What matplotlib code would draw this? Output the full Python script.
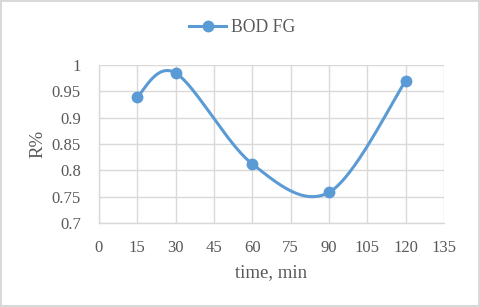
import numpy as np
import matplotlib
matplotlib.use("Agg")
import matplotlib.pyplot as plt
from matplotlib.lines import Line2D

time_min = [15, 30, 60, 90, 120]
r_values = [0.94, 0.985, 0.812, 0.758, 0.970]
series_name = "BOD FG"
x_ticks = [0, 15, 30, 45, 60, 75, 90, 105, 120, 135]
y_ticks = [0.7, 0.75, 0.8, 0.85, 0.9, 0.95, 1.0]
y_tick_labels = ["0.7", "0.75", "0.8", "0.85", "0.9", "0.95", "1"]

color = "#5B9BD5"
plt.rcParams['font.family'] = ['Liberation Serif', 'DejaVu Serif']

fig = plt.figure(figsize=(4.8, 3.07), dpi=100)
fig.patch.set_edgecolor("#d9d9d9")
fig.patch.set_linewidth(1.5)
ax = fig.add_axes([0.206, 0.274, 0.719, 0.514])

# Excel-like smoothed curve (cardinal Bezier)
P = np.column_stack([time_min, r_values]).astype(float)
n = len(P)
xs, ys = [], []
t = np.linspace(0, 1, 60)
for i in range(n - 1):
    p0 = P[max(i - 1, 0)]
    p1 = P[i]
    p2 = P[i + 1]
    p3 = P[min(i + 2, n - 1)]
    c1 = p1 + (p2 - p0) / 6
    c2 = p2 - (p3 - p1) / 6
    b = ((1 - t) ** 3)[:, None] * p1 + (3 * (1 - t) ** 2 * t)[:, None] * c1 \
        + (3 * (1 - t) * t ** 2)[:, None] * c2 + (t ** 3)[:, None] * p2
    xs.extend(b[:, 0]); ys.extend(b[:, 1])

ax.plot(xs, ys, color=color, lw=2.2, zorder=3, solid_capstyle='round')
ax.plot(time_min, r_values, 'o', color=color, ms=7.5, zorder=4)

ax.set_xlim(0, 135)
ax.set_ylim(0.7, 1.0)
ax.set_xticks(x_ticks)
ax.set_yticks(y_ticks)
ax.set_yticklabels(y_tick_labels)
ax.grid(True, color="#d9d9d9", lw=1)
ax.set_axisbelow(True)
for s in ["top", "right"]:
    ax.spines[s].set_visible(False)
for s in ["left", "bottom"]:
    ax.spines[s].set_color("#d9d9d9")
    ax.spines[s].set_linewidth(1)
ax.tick_params(axis='x', length=0, labelsize=12, colors="#595959", pad=12)
ax.tick_params(axis='y', length=0, labelsize=12, colors="#595959", pad=13)
ax.set_xlabel("time, min", fontsize=13.5, color="#595959", labelpad=6)
ax.set_ylabel("R%", fontsize=13.5, color="#595959", labelpad=4)

handle = Line2D([], [], color=color, lw=2.2, marker='o', ms=7.5)
fig.legend([handle], [series_name], loc='center', bbox_to_anchor=(0.505, 0.91),
           frameon=False, fontsize=12.7, labelcolor="#595959", handlelength=2.1,
           handletextpad=0.3)

fig.savefig("out.png", dpi=100, edgecolor=fig.get_edgecolor())
